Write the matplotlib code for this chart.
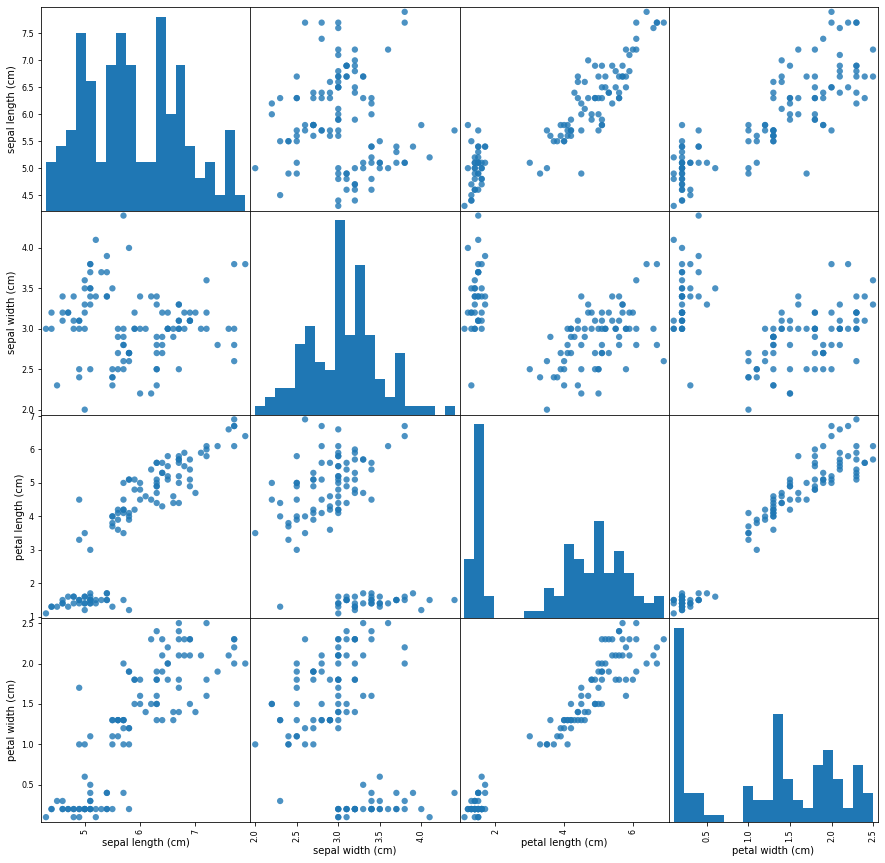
import matplotlib
matplotlib.use('Agg')
import pandas as pd
import matplotlib.pyplot as plt

sepal_length = [5.1,4.9,4.7,4.6,5.0,5.4,4.6,5.0,4.4,4.9,5.4,4.8,4.8,4.3,5.8,5.7,5.4,5.1,5.7,5.1,5.4,5.1,4.6,5.1,4.8,5.0,5.0,5.2,5.2,4.7,4.8,5.4,5.2,5.5,4.9,5.0,5.5,4.9,4.4,5.1,5.0,4.5,4.4,5.0,5.1,4.8,5.1,4.6,5.3,5.0,
                7.0,6.4,6.9,5.5,6.5,5.7,6.3,4.9,6.6,5.2,5.0,5.9,6.0,6.1,5.6,6.7,5.6,5.8,6.2,5.6,5.9,6.1,6.3,6.1,6.4,6.6,6.8,6.7,6.0,5.7,5.5,5.5,5.8,6.0,5.4,6.0,6.7,6.3,5.6,5.5,5.5,6.1,5.8,5.0,5.6,5.7,5.7,6.2,5.1,5.7,
                6.3,5.8,7.1,6.3,6.5,7.6,4.9,7.3,6.7,7.2,6.5,6.4,6.8,5.7,5.8,6.4,6.5,7.7,7.7,6.0,6.9,5.6,7.7,6.3,6.7,7.2,6.2,6.1,6.4,7.2,7.4,7.9,6.4,6.3,6.1,7.7,6.3,6.4,6.0,6.9,6.7,6.9,5.8,6.8,6.7,6.7,6.3,6.5,6.2,5.9]
sepal_width = [3.5,3.0,3.2,3.1,3.6,3.9,3.4,3.4,2.9,3.1,3.7,3.4,3.0,3.0,4.0,4.4,3.9,3.5,3.8,3.8,3.4,3.7,3.6,3.3,3.4,3.0,3.4,3.5,3.4,3.2,3.1,3.4,4.1,4.2,3.1,3.2,3.5,3.1,3.0,3.4,3.5,2.3,3.2,3.5,3.8,3.0,3.8,3.2,3.7,3.3,
               3.2,3.2,3.1,2.3,2.8,2.8,3.3,2.4,2.9,2.7,2.0,3.0,2.2,2.9,2.9,3.1,3.0,2.7,2.2,2.5,3.2,2.8,2.5,2.8,2.9,3.0,2.8,3.0,2.9,2.6,2.4,2.4,2.7,2.7,3.0,3.4,3.1,2.3,3.0,2.5,2.6,3.0,2.6,2.3,2.7,3.0,2.9,2.9,2.5,2.8,
               3.3,2.7,3.0,2.9,3.0,3.0,2.5,2.9,2.5,3.6,3.2,2.7,3.0,2.5,2.8,3.2,3.0,3.8,2.6,2.2,3.2,2.8,2.8,2.7,3.3,3.2,2.8,3.0,2.8,3.0,2.8,3.8,2.8,2.8,2.6,3.0,3.4,3.1,3.0,3.1,3.1,3.1,2.7,3.2,3.3,3.0,2.5,3.0,3.4,3.0]
petal_length = [1.4,1.4,1.3,1.5,1.4,1.7,1.4,1.5,1.4,1.5,1.5,1.6,1.4,1.1,1.2,1.5,1.3,1.4,1.7,1.5,1.7,1.5,1.0,1.7,1.9,1.6,1.6,1.5,1.4,1.6,1.6,1.5,1.5,1.4,1.5,1.2,1.3,1.5,1.3,1.5,1.3,1.3,1.3,1.6,1.9,1.4,1.6,1.4,1.5,1.4,
                4.7,4.5,4.9,4.0,4.6,4.5,4.7,3.3,4.6,3.9,3.5,4.2,4.0,4.7,3.6,4.4,4.5,4.1,4.5,3.9,4.8,4.0,4.9,4.7,4.3,4.4,4.8,5.0,4.5,3.5,3.8,3.7,3.9,5.1,4.5,4.5,4.7,4.4,4.1,4.0,4.4,4.6,4.0,3.3,4.2,4.2,4.2,4.3,3.0,4.1,
                6.0,5.1,5.9,5.6,5.8,6.6,4.5,6.3,5.8,6.1,5.1,5.3,5.5,5.0,5.1,5.3,5.5,6.7,6.9,5.0,5.7,4.9,6.7,4.9,5.7,6.0,4.8,4.9,5.6,5.8,6.1,6.4,5.6,5.1,5.6,6.1,5.6,5.5,4.8,5.4,5.6,5.1,5.1,5.9,5.7,5.2,5.0,5.2,5.4,5.1]
petal_width = [0.2,0.2,0.2,0.2,0.2,0.4,0.3,0.2,0.2,0.1,0.2,0.2,0.1,0.1,0.2,0.4,0.4,0.3,0.3,0.3,0.2,0.4,0.2,0.5,0.2,0.2,0.4,0.2,0.2,0.2,0.2,0.4,0.1,0.2,0.2,0.2,0.2,0.1,0.2,0.2,0.3,0.3,0.2,0.6,0.4,0.3,0.2,0.2,0.2,0.2,
               1.4,1.5,1.5,1.3,1.5,1.3,1.6,1.0,1.3,1.4,1.0,1.5,1.0,1.4,1.3,1.4,1.5,1.0,1.5,1.1,1.8,1.3,1.5,1.2,1.3,1.4,1.4,1.7,1.5,1.0,1.1,1.0,1.2,1.6,1.5,1.6,1.5,1.3,1.3,1.3,1.2,1.4,1.2,1.0,1.3,1.2,1.3,1.3,1.1,1.3,
               2.5,1.9,2.1,1.8,2.2,2.1,1.7,1.8,1.8,2.5,2.0,1.9,2.1,2.0,2.4,2.3,1.8,2.2,2.3,1.5,2.3,2.0,2.0,1.8,2.1,1.8,1.8,1.8,2.1,1.6,1.9,2.0,2.2,1.5,1.4,2.3,2.4,1.8,1.8,2.1,2.4,2.3,1.9,2.3,2.5,2.3,1.9,2.0,2.3,1.8]

# rows of the lists above that do not appear in the picture
absent_rows = [114,62,33,107,7,100,40,86,76,71,134,51,73,54,63,37,78,90,45,16,
               121,66,24,8,126,22,44,97,93,26,137,84,27,127,132,59,18,83]

df = pd.DataFrame({'sepal length (cm)': sepal_length,
                   'sepal width (cm)': sepal_width,
                   'petal length (cm)': petal_length,
                   'petal width (cm)': petal_width})
df = df.drop(index=absent_rows)

fig, axes = plt.subplots(4, 4, figsize=(885/72, 863/72), dpi=72)
pd.plotting.scatter_matrix(df, ax=axes, marker='o', s=40, alpha=.8, hist_kwds={'bins': 20})
fig.subplots_adjust(left=41/885, right=878/885, top=1-7/863, bottom=1-822/863, wspace=0, hspace=0)

plt.savefig('out.png', dpi=72)
